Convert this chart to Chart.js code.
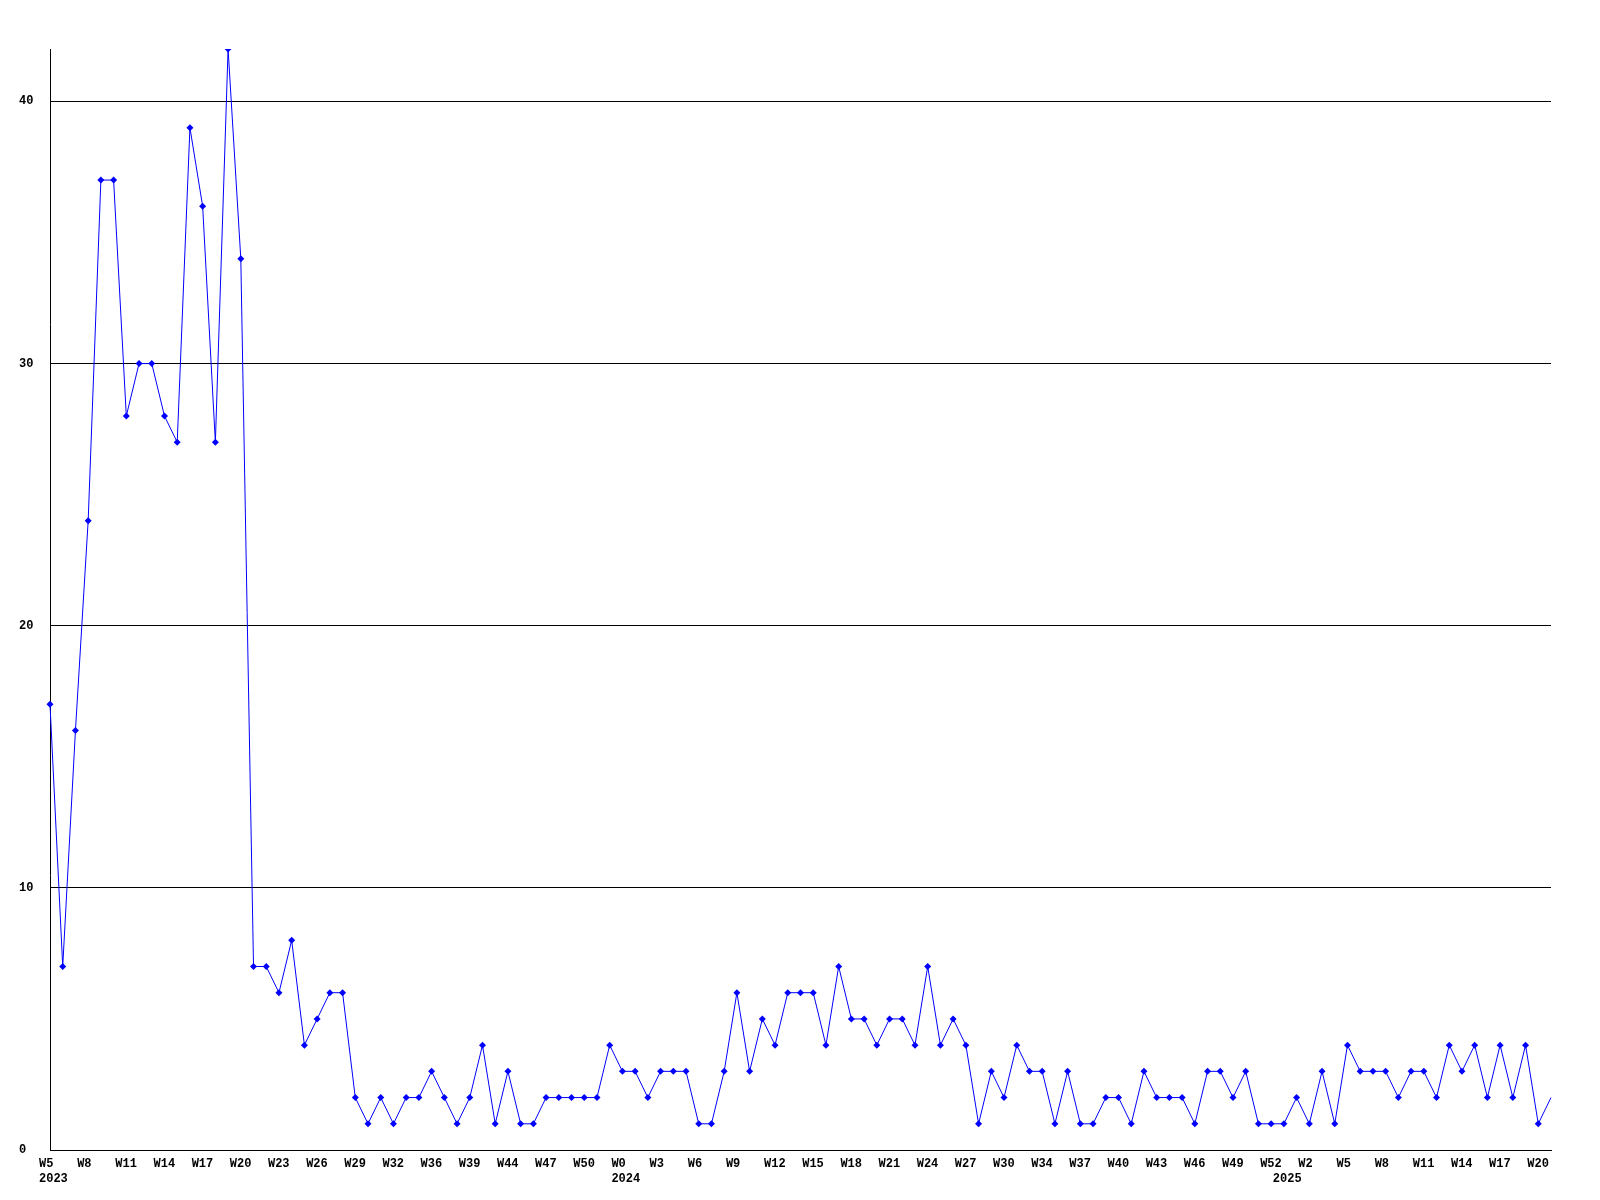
<!DOCTYPE html>
<html>
<head>
<meta charset="utf-8">
<script src="https://cdn.jsdelivr.net/npm/chart.js@4/dist/chart.umd.min.js"></script>
<style>
  html, body { margin:0; padding:0; background:#fff; }
  #wrap { width:1600px; height:1200px; }
</style>
</head>
<body>
<div id="wrap"><canvas id="chart"></canvas></div>
<script>
// weekly counts, one per point
const counts = [
  17, 7, 16, 24, 37, 37, 28, 30, 30, 28,
  27, 39, 36, 27, 42, 34, 7, 7, 6, 8,
  4, 5, 6, 6, 2, 1, 2, 1, 2, 2,
  3, 2, 1, 2, 4, 1, 3, 1, 1, 2,
  2, 2, 2, 2, 4, 3, 3, 2, 3, 3,
  3, 1, 1, 3, 6, 3, 5, 4, 6, 6,
  6, 4, 7, 5, 5, 4, 5, 5, 4, 7,
  4, 5, 4, 1, 3, 2, 4, 3, 3, 1,
  3, 1, 1, 2, 2, 1, 3, 2, 2, 2,
  1, 3, 3, 2, 3, 1, 1, 1, 2, 1,
  3, 1, 4, 3, 3, 3, 2, 3, 3, 2,
  4, 3, 4, 2, 4, 2, 4, 1, 2
];

// x tick labels, shown on every 3rd point
const weekTicks = ['W5','W8','W11','W14','W17','W20','W23','W26','W29','W32',
  'W36','W39','W44','W47','W50','W0','W3','W6','W9','W12',
  'W15','W18','W21','W24','W27','W30','W34','W37','W40','W43',
  'W46','W49','W52','W2','W5','W8','W11','W14','W17','W20'];
const tickEvery = 3;

// year labels and the point they sit under
const yearTicks = ['2023', '2024', '2025'];
const yearAt = [0, 45, 97];

const yTicks = [0, 10, 20, 30, 40];
const yMax = 42;

const FONT = { family: '"Liberation Mono", "DejaVu Sans Mono", monospace', size: 12, weight: 'bold', lineHeight: 1.25 };

const ctx = document.getElementById('chart').getContext('2d');
new Chart(ctx, {
  type: 'line',
  data: {
    labels: counts.map((_, i) => i),
    datasets: [{
      data: counts,
      borderColor: '#0000ff',
      borderWidth: 1,
      tension: 0,
      fill: false,
      pointStyle: 'rectRot',
      pointRadius: c => (c.dataIndex === counts.length - 1 ? 0 : 3.5),
      pointBackgroundColor: '#0000ff',
      pointBorderWidth: 0
    }]
  },
  options: {
    responsive: true,
    maintainAspectRatio: false,
    animation: false,
    layout: { padding: { left: 19, top: 49, right: 49, bottom: 0 } },
    plugins: { legend: { display: false }, tooltip: { enabled: false } },
    scales: {
      x: {
        type: 'category',
        offset: false,
        grid: { display: false, drawTicks: false },
        border: { display: true, color: '#000', width: 1 },
        ticks: {
          autoSkip: false, maxRotation: 0, minRotation: 0,
          align: 'start', labelOffset: -11, padding: 6,
          color: '#000', font: FONT,
          callback: (v, i) => {
            const w = i % tickEvery === 0 ? (weekTicks[i / tickEvery] || '') : '';
            const y = yearAt.indexOf(i);
            return y >= 0 ? [w, yearTicks[y]] : w;
          }
        },
        afterFit: s => { s.height = 50; }
      },
      y: {
        min: 0, max: yMax,
        grid: { color: '#000', lineWidth: 1, drawTicks: false },
        border: { display: true, color: '#000', width: 1 },
        ticks: { stepSize: 10, crossAlign: 'far', padding: 8, color: '#000', font: FONT },
        afterBuildTicks: s => { s.ticks = yTicks.map(v => ({ value: v })); },
        afterFit: s => { s.width = 31; }
      }
    }
  }
});
</script>
</body>
</html>
